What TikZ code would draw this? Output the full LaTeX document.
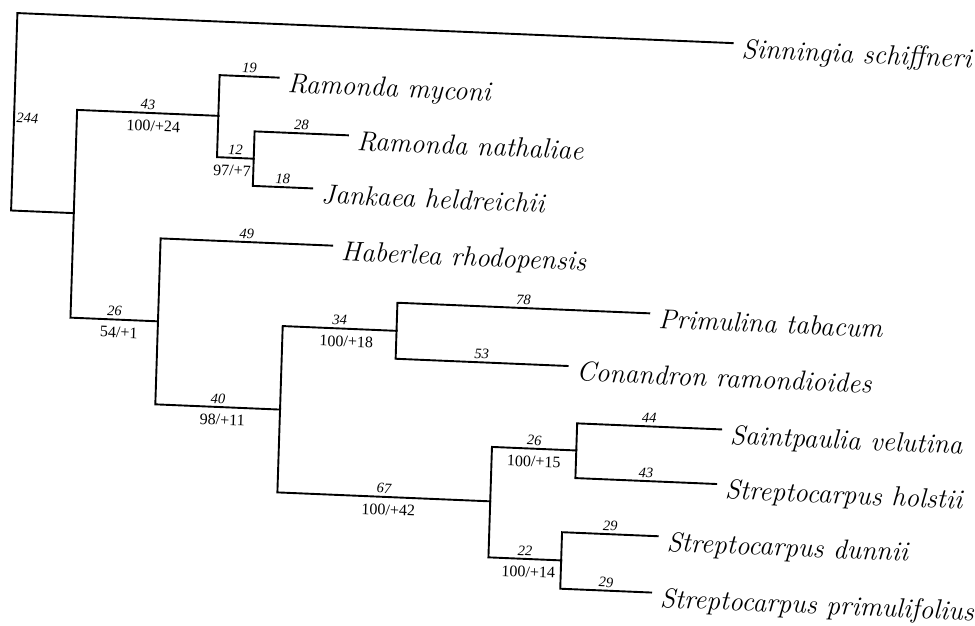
\documentclass[tikz,border=0pt]{standalone}
\usepackage{fontspec}
\newfontfamily\numfont{Liberation Serif}
\begin{document}
\begin{tikzpicture}[x=1pt,y=-1pt,
  br/.style={line width=1.9pt, line cap=rect, line join=miter},
  taxon/.style={font=\fontsize{27.5}{32}\selectfont\itshape, anchor=base west, inner sep=0pt},
  num/.style={font=\numfont\itshape\fontsize{14.5}{16}\selectfont, anchor=south, inner sep=0pt, yshift=2.5pt, pos=0.75},
  boot/.style={font=\numfont\fontsize{16}{18}\selectfont, anchor=north, inner sep=0pt, yshift=-6.5pt, xshift=5pt, pos=0.75},
]
\useasboundingbox (0,0) rectangle (975,625);
\fill[white] (0,0) rectangle (975,625);
\begin{scope}[cm={1,-0.042,0.032,1,(0,0)}, transform shape]
% internal nodes
\coordinate (R) at (17.8,111.4);
\coordinate (A) at (80.5,209.7);
\coordinate (B) at (221.7,106.5);
\coordinate (D) at (258.4,147.8);
\coordinate (C) at (168,314.2);
\coordinate (E) at (292.7,397.2);
\coordinate (F) at (406.5,313.7);
\coordinate (G) at (505.5,480);
\coordinate (H) at (589.8,425.6);
\coordinate (I) at (578.2,536);
% tips
\coordinate (Sin) at (733,12.3);
\coordinate (Myc) at (280.8,65.8);
\coordinate (Nat) at (351.7,120.5);
\coordinate (Jan) at (317.7,175);
\coordinate (Hab) at (339.6,231.3);
\coordinate (Pri) at (658.3,285.6);
\coordinate (Con) at (578.4,341.6);
\coordinate (Sai) at (733.7,398.5);
\coordinate (Hol) at (730.5,453.2);
\coordinate (Dun) at (673.9,507.8);
\coordinate (Prm) at (669,564.3);
% branches
\draw[br] (R) |- (Sin);
\draw[br] (R) |- (A);
\draw[br] (A) |- node[num]{43} node[boot,xshift=1pt]{100/+24} (B);
\draw[br] (A) |- node[num]{26} node[boot]{54/+1} (C);
\draw[br] (B) |- node[num]{19} (Myc);
\draw[br] (B) |- node[num]{12} node[boot,xshift=-8pt]{97/+7} (D);
\draw[br] (D) |- node[num]{28} (Nat);
\draw[br] (D) |- node[num]{18} (Jan);
\draw[br] (C) |- node[num]{49} (Hab);
\draw[br] (C) |- node[num]{40} node[boot]{98/+11} (E);
\draw[br] (E) |- node[num]{34} node[boot,xshift=2pt]{100/+18} (F);
\draw[br] (E) |- node[num]{67} node[boot]{100/+42} (G);
\draw[br] (F) |- node[num]{78} (Pri);
\draw[br] (F) |- node[num]{53} (Con);
\draw[br] (G) |- node[num]{26} node[boot,xshift=-5pt]{100/+15} (H);
\draw[br] (G) |- node[num]{22} node[boot,xshift=-1pt]{100/+14} (I);
\draw[br] (H) |- node[num]{44} (Sai);
\draw[br] (H) |- node[num]{43} (Hol);
\draw[br] (I) |- node[num]{29} (Dun);
\draw[br] (I) |- node[num]{29} (Prm);
% root length label
\node[font=\numfont\itshape\fontsize{14.5}{16}\selectfont, inner sep=0pt] (l244) at ([shift={(13.3,5.6)}]R) {244};
% taxa
\node[taxon] (tSin) at ([shift={(9,14.5)}]Sin) {Sinningia schiffneri};
\node[taxon] (tMyc) at ([shift={(9,14.5)}]Myc) {Ramonda myconi};
\node[taxon] (tNat) at ([shift={(9,14.5)}]Nat) {Ramonda nathaliae};
\node[taxon] (tJan) at ([shift={(9,14.5)}]Jan) {Jankaea heldreichii};
\node[taxon] (tHab) at ([shift={(9,14.5)}]Hab) {Haberlea rhodopensis};
\node[taxon] (tPri) at ([shift={(9,14.5)}]Pri) {Primulina tabacum};
\node[taxon] (tCon) at ([shift={(9,14.5)}]Con) {Conandron ramondioides};
\node[taxon] (tSai) at ([shift={(9,14.5)}]Sai) {Saintpaulia velutina};
\node[taxon] (tHol) at ([shift={(9,14.5)}]Hol) {Streptocarpus holstii};
\node[taxon] (tDun) at ([shift={(9,14.5)}]Dun) {Streptocarpus dunnii};
\node[taxon] (tPrm) at ([shift={(9,14.5)}]Prm) {Streptocarpus primulifolius};
\end{scope}
\end{tikzpicture}
\end{document}
